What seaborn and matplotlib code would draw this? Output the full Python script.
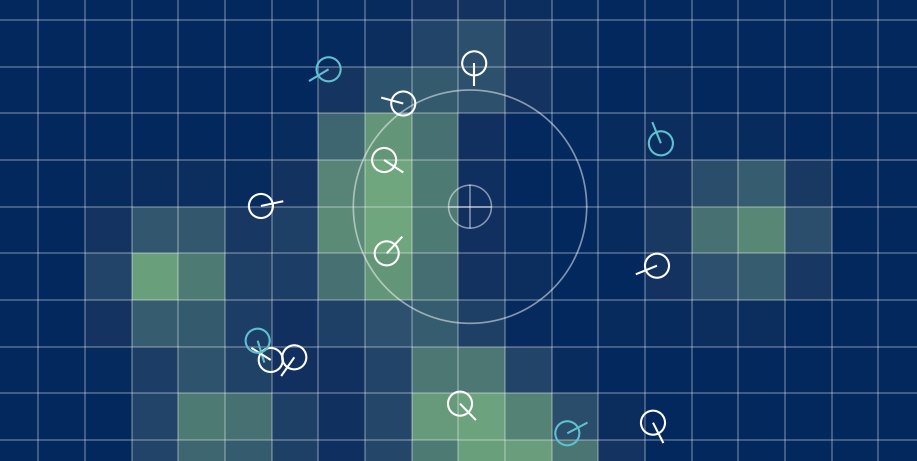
import numpy as np
import pandas as pd
import matplotlib
matplotlib.use("Agg")
import matplotlib.pyplot as plt
import seaborn as sns
from matplotlib.colors import LinearSegmentedColormap

# heat density per cell, rows top->bottom, columns left->right
heat = [
    [0, 0, 0, 0, 0, 0, 0, .02, .04, .10, .12, .07, .02, 0, 0, 0, 0, 0, 0, 0],
    [0, 0, 0, 0, 0, 0, 0, .02, .07, .26, .35, .14, .04, 0, 0, 0, 0, 0, 0, 0],
    [0, 0, 0, 0, 0, 0, 0, .14, .38, .43, .37, .13, .04, 0, .04, 0, 0, 0, 0, 0],
    [0, 0, 0, 0, 0, 0, .05, .52, .88, .60, .10, .01, .01, .04, .07, .05, .04, 0, 0, 0],
    [0, 0, .04, .06, .07, .04, .12, .76, 1.0, .68, .08, 0, 0, .04, .12, .33, .45, .17, 0, 0],
    [0, 0, .13, .40, .42, .16, .22, .80, 1.0, .68, .10, .05, 0, .04, .17, .60, .78, .34, 0, 0],
    [0, 0, .26, .95, .68, .22, .20, .60, .88, .58, .12, .07, 0, 0, .12, .36, .45, .16, 0, 0],
    [0, 0, .13, .45, .43, .20, .10, .22, .36, .45, .22, .03, 0, .04, .04, .07, .07, 0, 0, 0],
    [0, 0, .02, .20, .38, .24, .10, .10, .26, .66, .66, .26, .05, 0, 0, 0, 0, 0, 0, 0],
    [0, 0, 0, .26, .68, .60, .22, .09, .27, .92, .97, .74, .33, .06, 0, 0, 0, 0, 0, 0],
    [0, 0, 0, .26, .52, .44, .22, .08, .27, .68, .95, .94, .64, .13, 0, 0, 0, 0, 0, 0],
]

# players: position in cell units, heading in degrees (y grows downward)
player_x = [7.22, 8.82, 10.34, 8.41, 5.77, 14.34, 8.465, 14.257, 5.70, 5.98, 6.485, 10.036, 12.335, 14.171]
player_y = [2.056, 2.789, 1.928, 4.0, 4.985, 3.642, 6.0, 6.265, 7.872, 8.285, 8.228, 9.221, 9.856, 9.629]
player_heading = [149, -165, 90, 33, -12, -112, -47, 158, 73, -148, 125, 46, -28, 63]
player_team = ["b", "a", "a", "a", "a", "b", "a", "a", "b", "a", "a", "a", "b", "a"]

# zone marker
zone_x, zone_y = 10.25, 5.0
zone_radius = 2.5
target_radius = 0.46

team_colors = {"a": "#ffffff", "b": "#5fc1cf"}
bg = "#02285e"

cmap = LinearSegmentedColormap.from_list("heat", [
    (0.0, "#02285e"), (0.12, "#14325f"), (0.22, "#1e4066"), (0.36, "#2c506d"),
    (0.52, "#3e6670"), (0.68, "#4e7a74"), (0.85, "#609078"), (1.0, "#6fa67e"),
])

sns.set_style("dark")
fig = plt.figure(figsize=(9.17, 4.61), dpi=100, facecolor=bg)
ax = fig.add_axes([0, 0, 1, 1])
sns.heatmap(np.array(heat), cmap=cmap, vmin=0, vmax=1, cbar=False, ax=ax,
            xticklabels=False, yticklabels=False)

# grid over the cells
ax.set_xticks(np.arange(0, 21))
ax.set_yticks(np.arange(0, 12))
ax.set_xticklabels([])
ax.set_yticklabels([])
ax.tick_params(length=0)
ax.set_axisbelow(False)
ax.grid(True, color="white", alpha=0.28, lw=1.3)
for s in ax.spines.values():
    s.set_visible(False)

# zone ring and crosshair target
ang = np.linspace(0, 2 * np.pi, 200)
ax.plot(zone_x + zone_radius * np.cos(ang), zone_y + zone_radius * np.sin(ang),
        color="white", alpha=0.5, lw=1.2)
ax.plot(zone_x + target_radius * np.cos(ang), zone_y + target_radius * np.sin(ang),
        color="white", alpha=0.5, lw=1.1)
ax.plot([zone_x - target_radius, zone_x + target_radius], [zone_y, zone_y],
        color="white", alpha=0.5, lw=1.1)
ax.plot([zone_x, zone_x], [zone_y - target_radius, zone_y + target_radius],
        color="white", alpha=0.5, lw=1.1)

# players with heading ticks
players = pd.DataFrame({"x": player_x, "y": player_y,
                        "heading": player_heading, "team": player_team})
line_len = 0.49
for _, p in players.iterrows():
    col = team_colors[p["team"]]
    t = np.deg2rad(p["heading"])
    ax.plot([p["x"], p["x"] + line_len * np.cos(t)],
            [p["y"], p["y"] + line_len * np.sin(t)],
            color=col, lw=1.5, solid_capstyle="butt", zorder=4)
for team, grp in players.groupby("team"):
    ax.scatter(grp["x"], grp["y"], s=300, facecolors="none",
               edgecolors=team_colors[team], linewidths=1.5, zorder=5)

ax.set_xlim(0.179, 19.828)
ax.set_ylim(10.45, 0.571)

fig.savefig("out.png", dpi=100, facecolor=bg)
